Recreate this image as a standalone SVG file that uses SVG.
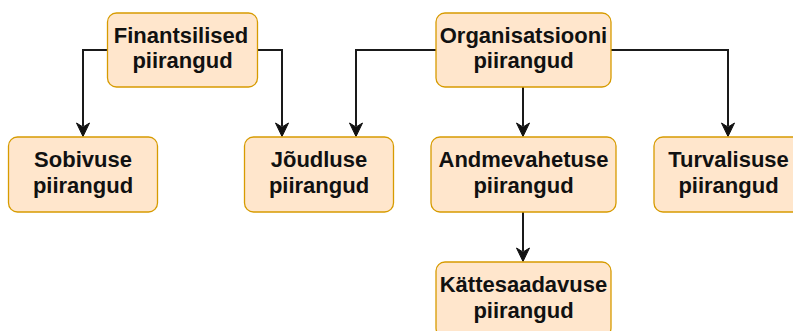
<svg xmlns="http://www.w3.org/2000/svg" width="793" height="331" viewBox="0 0 793 331">
  <defs>
    <style>
      .box { fill: #ffe6cc; stroke: #d79b00; stroke-width: 1.3; }
      .lbl { font-family: "Liberation Sans", Arial, sans-serif; font-weight: bold; font-size: 22px; fill: #111; text-anchor: middle; }
      .edge { fill: none; stroke: #1a1a1a; stroke-width: 2; }
      .head { fill: #111; stroke: #111; stroke-width: 1; stroke-linejoin: miter; }
    </style>
  </defs>
  <rect width="793" height="331" fill="#ffffff"/>

  <g id="connectors">
    <path class="edge" d="M107,50 H83 V126"/>
    <path class="head" d="M83,136.5 L76.5,123 L83,127 L89.5,123 Z"/>
    <path class="edge" d="M257,50 H282 V126"/>
    <path class="head" d="M282,136.5 L275.5,123 L282,127 L288.5,123 Z"/>
    <path class="edge" d="M436,50 H356 V126"/>
    <path class="head" d="M356,136.5 L349.5,123 L356,127 L362.5,123 Z"/>
    <path class="edge" d="M523,87 V126"/>
    <path class="head" d="M523,136.5 L516.5,123 L523,127 L529.5,123 Z"/>
    <path class="edge" d="M611,50 H728 V126"/>
    <path class="head" d="M728,136.5 L721.5,123 L728,127 L734.5,123 Z"/>
    <path class="edge" d="M523,212 V251"/>
    <path class="head" d="M523,261.5 L516.5,248 L523,252 L529.5,248 Z"/>
  </g>

  <g id="finantsilised">
    <rect class="box" x="107.5" y="13" width="150" height="74" rx="9"/>
    <text class="lbl" x="181" y="42.5">Finantsilised</text>
    <text class="lbl" x="182.5" y="68">piirangud</text>
  </g>
  <g id="organisatsiooni">
    <rect class="box" x="436" y="13" width="175" height="74" rx="9"/>
    <text class="lbl" x="523.5" y="42.5">Organisatsiooni</text>
    <text class="lbl" x="523.5" y="68">piirangud</text>
  </g>
  <g id="sobivuse">
    <rect class="box" x="8.5" y="137" width="149" height="75" rx="9"/>
    <text class="lbl" x="83" y="167">Sobivuse</text>
    <text class="lbl" x="83" y="192.5">piirangud</text>
  </g>
  <g id="joudluse">
    <rect class="box" x="244.5" y="137" width="149" height="75" rx="9"/>
    <text class="lbl" x="319" y="167">Jõudluse</text>
    <text class="lbl" x="319" y="192.5">piirangud</text>
  </g>
  <g id="andmevahetuse">
    <rect class="box" x="431" y="137" width="185" height="75" rx="9"/>
    <text class="lbl" x="523.5" y="167">Andmevahetuse</text>
    <text class="lbl" x="523.5" y="192.5">piirangud</text>
  </g>
  <g id="turvalisuse">
    <rect class="box" x="654" y="137" width="149" height="75" rx="9"/>
    <text class="lbl" x="728.5" y="167">Turvalisuse</text>
    <text class="lbl" x="728.5" y="192.5">piirangud</text>
  </g>
  <g id="kattesaadavuse">
    <rect class="box" x="436" y="262" width="175" height="75" rx="9"/>
    <text class="lbl" x="523.5" y="292">Kättesaadavuse</text>
    <text class="lbl" x="523.5" y="317.5">piirangud</text>
  </g>
</svg>
